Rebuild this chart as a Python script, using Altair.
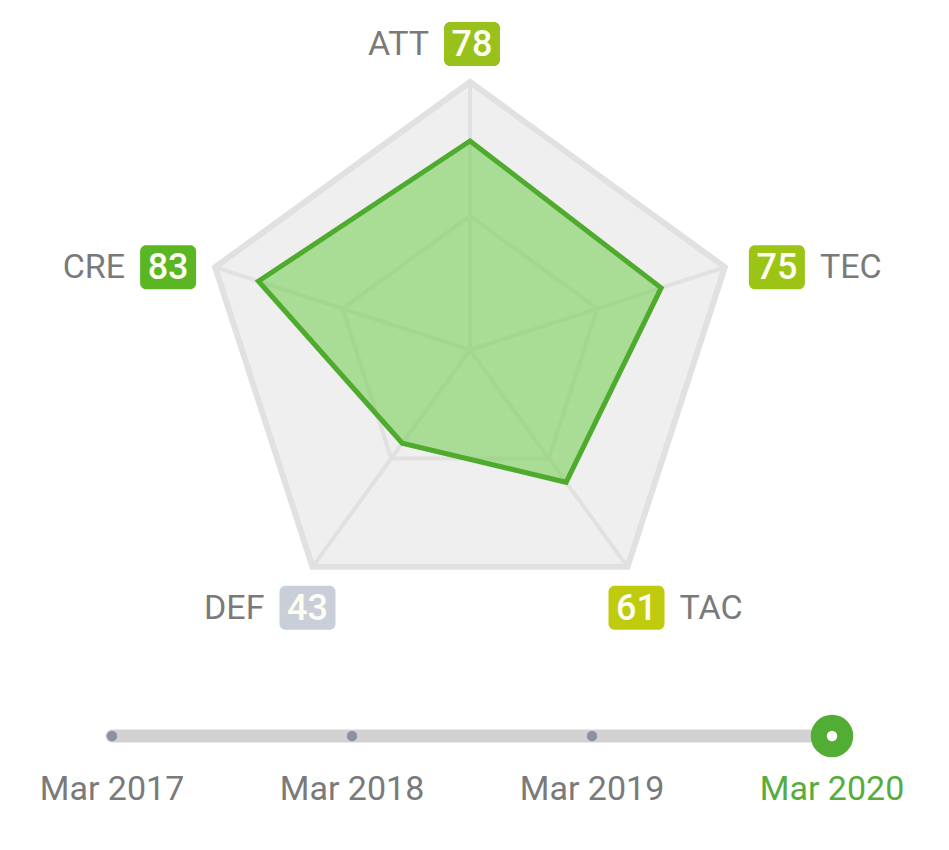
import math
import altair as alt
import pandas as pd

# ---------------- data ----------------
axes = ["ATT", "TEC", "TAC", "DEF", "CRE"]
values = [78, 75, 61, 43, 83]
badge_colors = ["#98c21b", "#9cc414", "#c1cb0e", "#c9cfd8", "#5bb623"]
label_side = ["left", "right", "right", "left", "left"]
angles_deg = [90, 18, -54, -126, 162]
grid_levels = [100, 50]

dates = ["Mar 2017", "Mar 2018", "Mar 2019", "Mar 2020"]
current_date = "Mar 2020"

# ---------------- layout ----------------
W, H = 949, 850
CX, CY, R = 470, 350, 268          # centre and outer radius in px
PX = R / 100.0                      # px per value unit
xdom = [-CX / PX, (W - CX) / PX]
ydom = [-(H - CY) / PX, CY / PX]
# badge offsets from each outer vertex (px: right, down)
badge_off = {"ATT": (2, -38), "TEC": (52, 0), "TAC": (9, 41), "DEF": (-5, 41), "CRE": (-47, 0)}

FONT = "Roboto, sans-serif"

def pt(r, ang):
    a = math.radians(ang)
    return r * math.cos(a), r * math.sin(a)

grid_rows = []
for lvl in grid_levels:
    for i, ang in enumerate(angles_deg):
        x, y = pt(lvl, ang)
        grid_rows.append({"level": lvl, "i": i, "x": x, "y": y})
grid_df = pd.DataFrame(grid_rows)

spoke_rows = []
for ang in angles_deg:
    x, y = pt(100, ang)
    spoke_rows.append({"x": 0.0, "y": 0.0, "x2": x, "y2": y})
spoke_df = pd.DataFrame(spoke_rows)

radar_rows = []
for i, (a, v, ang) in enumerate(zip(axes, values, angles_deg)):
    x, y = pt(v, ang)
    radar_rows.append({"axis": a, "i": i, "value": v, "x": x, "y": y})
radar_df = pd.DataFrame(radar_rows)

badge_rows = []
for a, v, c, s, ang in zip(axes, values, badge_colors, label_side, angles_deg):
    x, y = pt(100, ang)
    ox, oy = badge_off[a]
    badge_rows.append({"axis": a, "value": str(v), "color": c, "side": s,
                       "bx": x + ox / PX, "by": y - oy / PX})
badge_df = pd.DataFrame(badge_rows)

tl_df = pd.DataFrame({"date": dates, "current": [d == current_date for d in dates]})
tl_line_df = pd.DataFrame({"start": [dates[0]], "end": [dates[-1]]})

xs = alt.Scale(domain=xdom, nice=False, zero=False)
ys = alt.Scale(domain=ydom, nice=False, zero=False)
X = lambda f: alt.X(f, type="quantitative", scale=xs, axis=None)
Y = lambda f: alt.Y(f, type="quantitative", scale=ys, axis=None)

outer = alt.Chart(grid_df).transform_filter("datum.level == 100").mark_line(
    interpolate="linear-closed", fill="#efefef", stroke="#e1e1e1", strokeWidth=6, strokeJoin="miter"
).encode(x=X("x"), y=Y("y"), order="i:O")

inner = alt.Chart(grid_df).transform_filter("datum.level == 50").mark_line(
    interpolate="linear-closed", stroke="#e1e1e1", strokeWidth=4, strokeJoin="miter"
).encode(x=X("x"), y=Y("y"), order="i:O")

spokes = alt.Chart(spoke_df).mark_rule(stroke="#e1e1e1", strokeWidth=4).encode(
    x=X("x"), y=Y("y"), x2="x2", y2="y2")

radar = alt.Chart(radar_df).mark_line(
    interpolate="linear-closed", fill="#79cf57", fillOpacity=0.6, stroke="#4fab2e",
    strokeWidth=5, strokeJoin="miter"
).encode(x=X("x"), y=Y("y"), order="i:O")

badges = alt.Chart(badge_df).mark_rect(
    cornerRadius=6, xOffset=-28, x2Offset=28, yOffset=-22, y2Offset=22
).encode(x=X("bx"), x2="bx", y=Y("by"), y2="by", color=alt.Color("color:N", scale=None))

badge_text = alt.Chart(badge_df).mark_text(
    font=FONT, fontSize=36, fontWeight=500, color="#fdfdf2", align="center", baseline="middle", dy=1
).encode(x=X("bx"), y=Y("by"), text="value:N")

lab_left = alt.Chart(badge_df).transform_filter("datum.side == 'left'").mark_text(
    font=FONT, fontSize=34, color="#7a7a7a", align="right", baseline="middle", dx=-43, dy=1
).encode(x=X("bx"), y=Y("by"), text="axis:N")

lab_right = alt.Chart(badge_df).transform_filter("datum.side == 'right'").mark_text(
    font=FONT, fontSize=34, color="#7a7a7a", align="left", baseline="middle", dx=43, dy=1
).encode(x=X("bx"), y=Y("by"), text="axis:N")

radar_layer = alt.layer(outer, inner, spokes, radar, badges, badge_text, lab_left, lab_right)

# ---------------- timeline ----------------
ts = alt.Scale(type="point", domain=dates, range=[112, 832], padding=0)
TX = lambda f: alt.X(f, type="nominal", scale=ts, axis=None)

tl_line = alt.Chart(tl_line_df).mark_rule(stroke="#d2d2d2", strokeWidth=13, strokeCap="round").encode(
    x=TX("start"), x2="end", y=alt.value(736))

tl_dots = alt.Chart(tl_df).transform_filter("!datum.current").mark_circle(
    size=110, color="#8b93a3", opacity=1).encode(x=TX("date"), y=alt.value(736))

tl_big = alt.Chart(tl_df).transform_filter("datum.current").mark_circle(
    size=1810, color="#52ad34", opacity=1).encode(x=TX("date"), y=alt.value(736))

tl_inner = alt.Chart(tl_df).transform_filter("datum.current").mark_circle(
    size=110, color="#ffffff", opacity=1).encode(x=TX("date"), y=alt.value(736))

tl_text = alt.Chart(tl_df).mark_text(
    font=FONT, fontSize=34, align="center", baseline="middle").encode(
    x=TX("date"), y=alt.value(790), text="date:N",
    color=alt.condition("datum.current", alt.value("#57ad3b"), alt.value("#7a7a7a")))

timeline = alt.layer(tl_line, tl_dots, tl_big, tl_inner, tl_text)

chart = alt.layer(radar_layer, timeline).resolve_scale(x="independent", y="independent").properties(
    width=W, height=H, padding=0, autosize=alt.AutoSizeParams(type="none"),
    background="#ffffff"
).configure_view(stroke=None)

chart.save("out.html", embed_options={"renderer": "svg", "actions": False})
